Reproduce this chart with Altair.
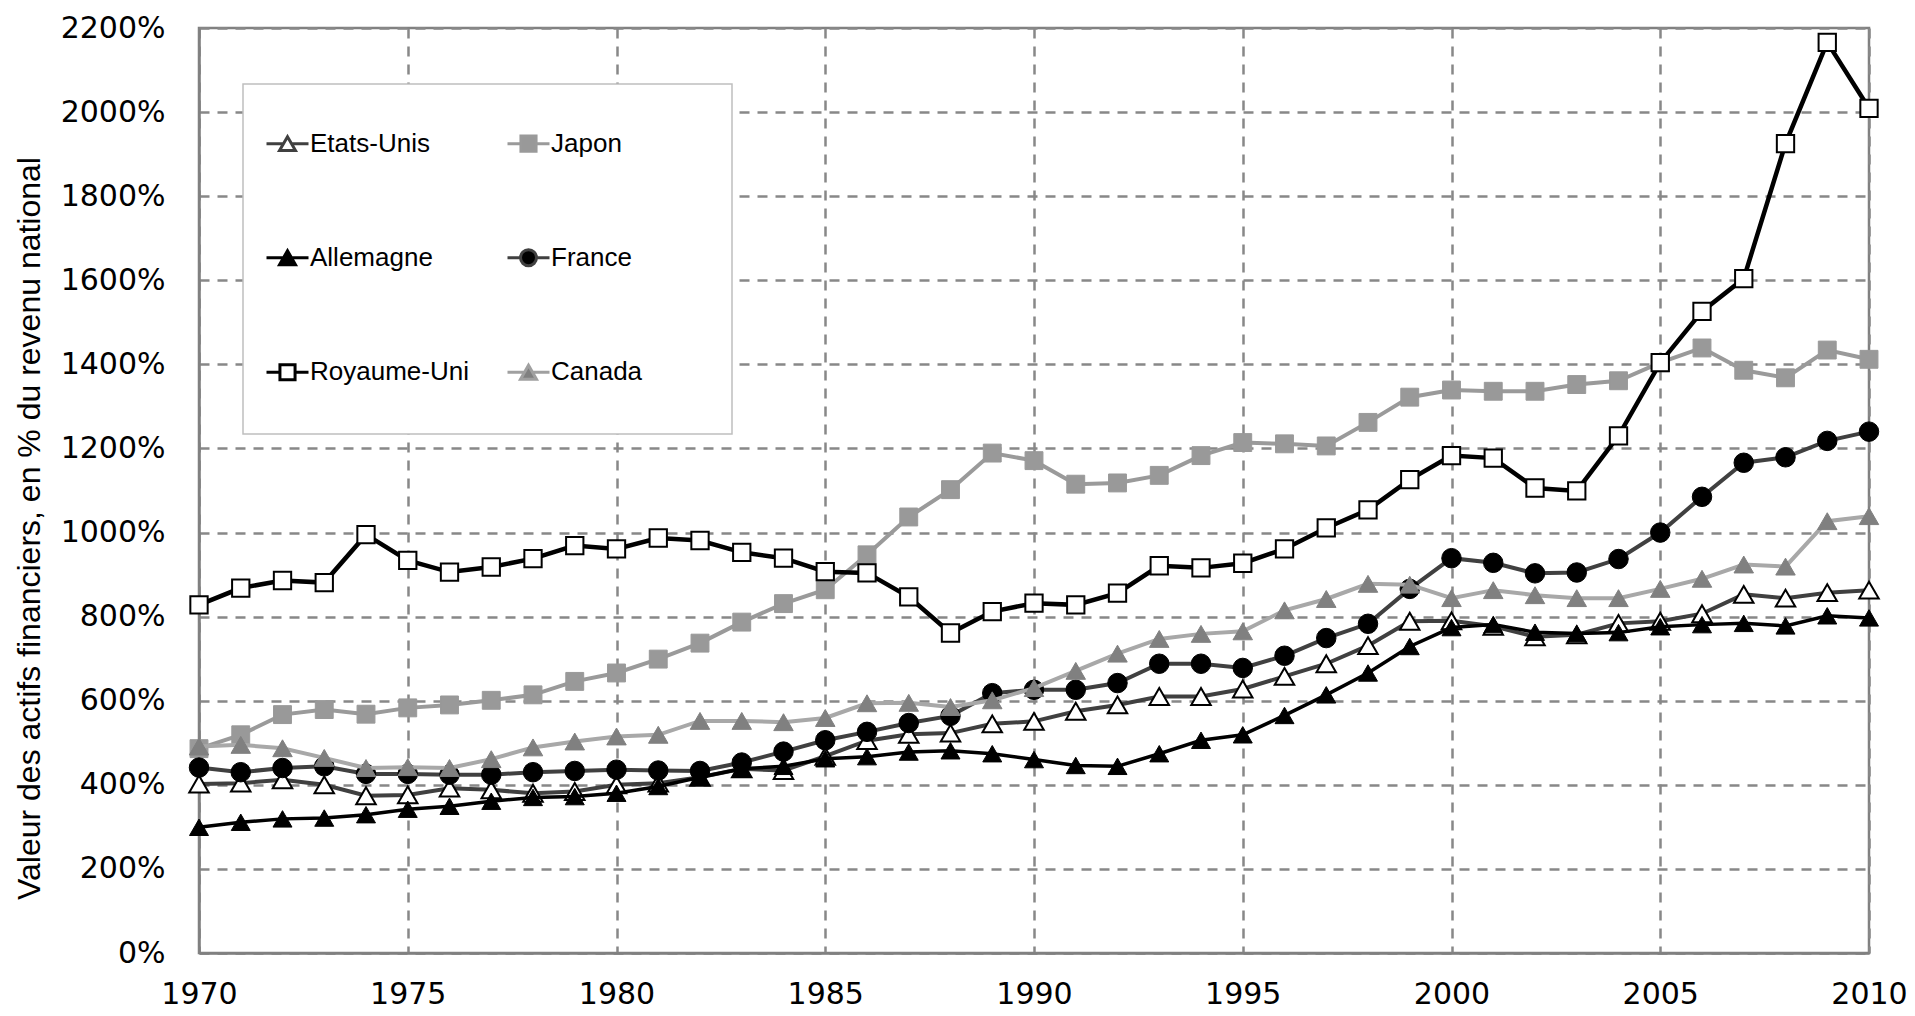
import altair as alt
import pandas as pd

years = list(range(1970, 2011))

countries = ["Etats-Unis", "Japon", "Allemagne", "France", "Royaume-Uni", "Canada"]

etats_unis = [402, 404, 412, 400, 374, 376, 392, 388, 380, 384, 400, 404, 418, 438, 434,
              468, 505, 520, 523, 545, 551, 575, 590, 610, 610, 628, 658, 688, 731, 789,
              790, 777, 752, 757, 784, 789, 807, 853, 844, 857, 863]
japon = [486, 519, 567, 579, 568, 583, 590, 601, 614, 646, 666, 699, 737, 787, 831,
         864, 947, 1037, 1102, 1189, 1171, 1115, 1118, 1136, 1183, 1214, 1211, 1206, 1262, 1322,
         1339, 1336, 1336, 1352, 1361, 1404, 1439, 1386, 1368, 1434, 1412]
allemagne = [299, 311, 319, 321, 329, 342, 349, 361, 370, 372, 380, 396, 418, 438, 444,
             462, 467, 478, 481, 474, 460, 446, 444, 474, 506, 519, 565, 614, 666, 729,
             774, 781, 763, 760, 762, 776, 781, 784, 778, 802, 797]
france = [441, 430, 440, 444, 426, 426, 424, 424, 430, 433, 436, 434, 433, 453, 479,
          506, 526, 547, 564, 618, 626, 626, 642, 688, 688, 678, 707, 749, 783, 866,
          939, 928, 903, 905, 937, 1000, 1085, 1166, 1179, 1218, 1240]
royaume_uni = [828, 868, 886, 881, 995, 934, 906, 918, 938, 969, 961, 987, 981, 953, 939,
               907, 904, 847, 761, 812, 832, 828, 856, 921, 916, 927, 961, 1011, 1054, 1126,
               1183, 1177, 1106, 1099, 1230, 1404, 1526, 1604, 1925, 2166, 2009]
canada = [491, 495, 487, 464, 440, 442, 440, 461, 489, 503, 515, 519, 552, 552, 549,
          559, 594, 595, 585, 601, 630, 671, 712, 747, 759, 765, 815, 842, 878, 876,
          844, 863, 851, 844, 844, 866, 890, 924, 919, 1027, 1039]

series = {
    "Etats-Unis": etats_unis,
    "Japon": japon,
    "Allemagne": allemagne,
    "France": france,
    "Royaume-Uni": royaume_uni,
    "Canada": canada,
}

# legend entries, listed column by column (2 columns x 3 rows)
legend_order = ["Etats-Unis", "Allemagne", "Royaume-Uni", "Japon", "France", "Canada"]

x_ticks = list(range(1970, 2011, 5))
y_ticks = list(range(0, 2201, 200))
y_title = "Valeur des actifs financiers, en % du revenu national"

rows = []
for c in countries:
    for yr, v in zip(years, series[c]):
        rows.append({"year": yr, "value": v, "country": c})
df = pd.DataFrame(rows)

styles = {
    "Etats-Unis": dict(line="#404040", lw=4, shape="triangle-up", fill="white", stroke="black", sw=2, size=380),
    "Japon": dict(line="#9a9a9a", lw=4, shape="square", fill="#999999", stroke="#999999", sw=1, size=320),
    "Allemagne": dict(line="black", lw=3.5, shape="triangle-up", fill="black", stroke="black", sw=1, size=360),
    "France": dict(line="#404040", lw=4, shape="circle", fill="black", stroke="black", sw=1, size=380),
    "Royaume-Uni": dict(line="black", lw=4.5, shape="square", fill="white", stroke="black", sw=2, size=300),
    "Canada": dict(line="#a8a8a8", lw=4, shape="triangle-up", fill="#808080", stroke="#808080", sw=1, size=380),
}

# legend symbols: short line + marker in one path (unit box); invisible move-to points
# give every entry the same box so the legend frame matches the reference
ext = " M0,-1.6M0,1.6M8.35,0"
tri = "M0,-0.33L0.38,0.33L-0.38,0.33Z M-1,0H-0.19M0.19,0H1" + ext
sq = "M-0.36,-0.36H0.36V0.36H-0.36Z M-1,0H-0.36M0.36,0H1" + ext
circ = "M-0.38,0A0.38,0.38,0,1,0,0.38,0A0.38,0.38,0,1,0,-0.38,0Z M-1,0H-0.38M0.38,0H1" + ext
legend_style = {
    "Etats-Unis": (tri, "white", "#404040"),
    "Japon": (sq, "#999999", "#9a9a9a"),
    "Allemagne": (tri, "black", "black"),
    "France": (circ, "black", "#404040"),
    "Royaume-Uni": (sq, "white", "black"),
    "Canada": (tri, "#808080", "#a0a0a0"),
}
legend_shapes = [legend_style[c][0] for c in legend_order]
legend_fills = [legend_style[c][1] for c in legend_order]
legend_strokes = [legend_style[c][2] for c in legend_order]

x_enc = alt.X(
    "year:Q",
    scale=alt.Scale(domain=[1970, 2010], nice=False, zero=False),
    axis=alt.Axis(values=x_ticks, format="d", title=None, labelFlush=False,
                  labelOverlap=False, labelPadding=26),
)
y_enc = alt.Y(
    "value:Q",
    scale=alt.Scale(domain=[0, 2200], nice=False),
    axis=alt.Axis(values=y_ticks, labelExpr="datum.value + '%'", title=y_title,
                  labelFlush=False, labelOverlap=False, labelPadding=34,
                  titleX=-170, titleY=500, titleBaseline="middle", titleAngle=270,
                  titleFont="Liberation Sans", titleFontSize=32, titleFontWeight="normal",
                  titleColor="black"),
)

base = alt.Chart(df)
layers = []
for c in countries:
    s = styles[c]
    sub = base.transform_filter(alt.datum.country == c)
    layers.append(sub.mark_line(color=s["line"], strokeWidth=s["lw"]).encode(x=x_enc, y=y_enc))
    layers.append(
        sub.mark_point(shape=s["shape"], fill=s["fill"], stroke=s["stroke"],
                       strokeWidth=s["sw"], size=s["size"], opacity=1, filled=False)
        .encode(x=x_enc, y=y_enc)
    )

legend_layer = base.transform_filter("false").mark_point().encode(
    x=x_enc,
    y=y_enc,
    shape=alt.Shape("country:N", scale=alt.Scale(domain=legend_order, range=legend_shapes),
                    legend=alt.Legend(title=" ", symbolOpacity=1)),
    fill=alt.Fill("country:N", scale=alt.Scale(domain=legend_order, range=legend_fills),
                  legend=alt.Legend(title=" ")),
    stroke=alt.Stroke("country:N", scale=alt.Scale(domain=legend_order, range=legend_strokes),
                      legend=alt.Legend(title=" ")),
)
layers.append(legend_layer)

chart = (
    alt.layer(*layers)
    .properties(
        width=1670,
        height=925,
        autosize=alt.AutoSizeParams(type="none"),
        padding={"left": 191, "top": 20, "right": 38, "bottom": 60},
        background="white",
    )
    .configure_view(stroke="#808080", strokeWidth=2.5)
    .configure_axis(
        domainColor="#808080", domainWidth=2.5,
        gridColor="#888888", gridWidth=2.5, gridDash=[10, 8],
        ticks=False,
        labelFont="DejaVu Sans", labelFontSize=30, labelColor="black",
    )
    .configure_legend(
        orient="none", legendX=44, legendY=56, columns=2, gridAlign="all",
        padding=22, rowPadding=33.5, columnPadding=32,
        titleFontSize=2, titlePadding=12.7,
        symbolSize=1764, symbolStrokeWidth=3, symbolOpacity=1,
        labelFont="Liberation Sans", labelFontSize=26,
        labelColor="black", labelOffset=0,
        labelLimit=400,
        strokeColor="#bfbfbf", strokeWidth=1.5, fillColor="white",
    )
)

chart.save("out.html", embed_options={"renderer": "svg", "actions": False})
